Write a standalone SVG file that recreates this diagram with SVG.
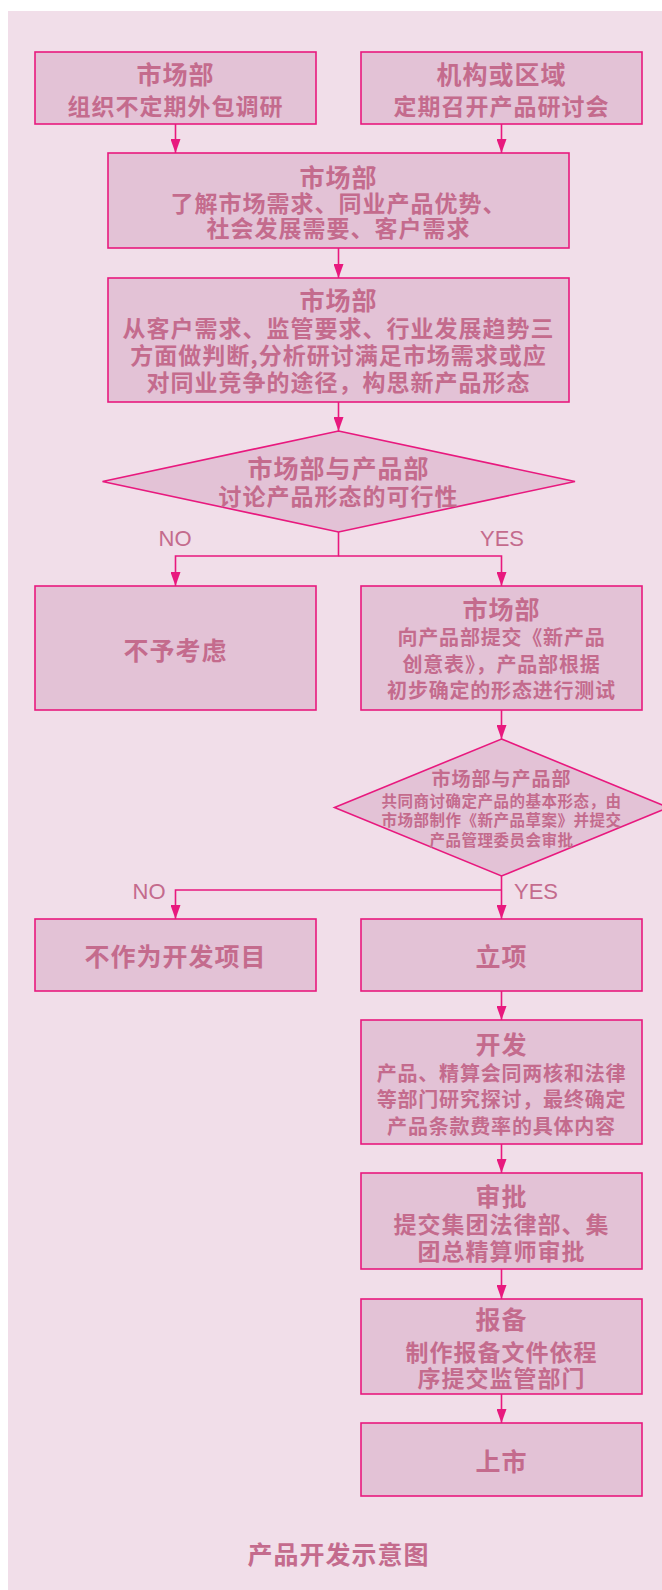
<svg xmlns="http://www.w3.org/2000/svg" width="662" height="1590" viewBox="0 0 662 1590">
<defs>
<style>
.bg{fill:#f1dee9}
.box{fill:#e3c2d6;stroke:#e8197e;stroke-width:1.6}
.ln{fill:none;stroke:#e8197e;stroke-width:1.6}
.t{font-family:"Noto Sans CJK SC","Noto Sans",sans-serif;font-weight:700;fill:#c46b8d;text-anchor:middle;dominant-baseline:central}
.h{font-size:25px;letter-spacing:1px}
.b{font-size:23px;letter-spacing:1px}
.s{font-size:20px;letter-spacing:0.8px}
.d2h{font-size:19px;letter-spacing:1px}
.d2b{font-size:15.5px;letter-spacing:0.5px}
.yn{font-family:"Liberation Sans",Arial,sans-serif;font-size:22px;fill:#c46b8d;text-anchor:middle}
</style>
<marker id="arr" markerUnits="userSpaceOnUse" markerWidth="14" markerHeight="10" refX="14" refY="5" orient="auto">
<path d="M0,0 L14,5 L0,10 Z" fill="#e8197e"/>
</marker>
</defs>
<rect class="bg" x="8" y="11" width="654" height="1579"/>

<g id="connectors">
<line class="ln" x1="175.5" y1="124" x2="175.5" y2="153" marker-end="url(#arr)"/>
<line class="ln" x1="501.5" y1="124" x2="501.5" y2="153" marker-end="url(#arr)"/>
<line class="ln" x1="338.5" y1="248" x2="338.5" y2="278" marker-end="url(#arr)"/>
<line class="ln" x1="338.5" y1="402" x2="338.5" y2="431" marker-end="url(#arr)"/>
<path class="ln" d="M338.5,532 V556 H175.5 V586" marker-end="url(#arr)"/>
<path class="ln" d="M338.5,556 H501.5 V586" marker-end="url(#arr)"/>
<line class="ln" x1="501.5" y1="710" x2="501.5" y2="739" marker-end="url(#arr)"/>
<line class="ln" x1="501.5" y1="876" x2="501.5" y2="919" marker-end="url(#arr)"/>
<path class="ln" d="M501.5,890 H175.5 V919" marker-end="url(#arr)"/>
<line class="ln" x1="501.5" y1="991" x2="501.5" y2="1020" marker-end="url(#arr)"/>
<line class="ln" x1="501.5" y1="1144" x2="501.5" y2="1173" marker-end="url(#arr)"/>
<line class="ln" x1="501.5" y1="1269" x2="501.5" y2="1299" marker-end="url(#arr)"/>
<line class="ln" x1="501.5" y1="1394" x2="501.5" y2="1423" marker-end="url(#arr)"/>
<text class="yn" x="175" y="546">NO</text>
<text class="yn" x="502" y="546">YES</text>
<text class="yn" x="149" y="899">NO</text>
<text class="yn" x="536" y="899">YES</text>
</g>

<g id="nodeA">
<rect class="box" x="35" y="52" width="281" height="72"/>
<text class="t h" x="175.5" y="73">市场部</text>
<text class="t b" x="175.5" y="105">组织不定期外包调研</text>
</g>
<g id="nodeB">
<rect class="box" x="361" y="52" width="281" height="72"/>
<text class="t h" x="501.5" y="73">机构或区域</text>
<text class="t b" x="501.5" y="105">定期召开产品研讨会</text>
</g>
<g id="nodeC">
<rect class="box" x="108" y="153" width="461" height="95"/>
<text class="t h" x="338.5" y="176">市场部</text>
<text class="t b" x="338.5" y="202">了解市场需求、同业产品优势、</text>
<text class="t b" x="338.5" y="227">社会发展需要、客户需求</text>
</g>
<g id="nodeD">
<rect class="box" x="108" y="278" width="461" height="124"/>
<text class="t h" x="338.5" y="299">市场部</text>
<text class="t b" x="338.5" y="327">从客户需求、监管要求、行业发展趋势三</text>
<text class="t b" x="338.5" y="354">方面做判断,分析研讨满足市场需求或应</text>
<text class="t b" x="338.5" y="381">对同业竞争的途径，构思新产品形态</text>
</g>
<g id="decision1">
<polygon class="box" points="338.5,431 575,481.5 338.5,532 102.5,481.5"/>
<text class="t h" x="338.5" y="467">市场部与产品部</text>
<text class="t b" x="338.5" y="495">讨论产品形态的可行性</text>
</g>
<g id="nodeE">
<rect class="box" x="35" y="586" width="281" height="124"/>
<text class="t h" x="175.5" y="649">不予考虑</text>
</g>
<g id="nodeF">
<rect class="box" x="361" y="586" width="281" height="124"/>
<text class="t h" x="501.5" y="608">市场部</text>
<text class="t s" x="501.5" y="636">向产品部提交《新产品</text>
<text class="t s" x="501.5" y="663">创意表》，产品部根据</text>
<text class="t s" x="501.5" y="689">初步确定的形态进行测试</text>
</g>
<g id="decision2">
<polygon class="box" points="501.5,739 668.5,807.5 501.5,876 334.5,807.5"/>
<text class="t d2h" x="501.5" y="777">市场部与产品部</text>
<text class="t d2b" x="501.5" y="800">共同商讨确定产品的基本形态，由</text>
<text class="t d2b" x="501.5" y="819">市场部制作《新产品草案》并提交</text>
<text class="t d2b" x="501.5" y="839">产品管理委员会审批</text>
</g>
<g id="nodeG">
<rect class="box" x="35" y="919" width="281" height="72"/>
<text class="t h" x="175.5" y="955">不作为开发项目</text>
</g>
<g id="nodeH">
<rect class="box" x="361" y="919" width="281" height="72"/>
<text class="t h" x="501.5" y="955">立项</text>
</g>
<g id="nodeI">
<rect class="box" x="361" y="1020" width="281" height="124"/>
<text class="t h" x="501.5" y="1043">开发</text>
<text class="t s" x="501.5" y="1072">产品、精算会同两核和法律</text>
<text class="t s" x="501.5" y="1098">等部门研究探讨，最终确定</text>
<text class="t s" x="501.5" y="1125">产品条款费率的具体内容</text>
</g>
<g id="nodeJ">
<rect class="box" x="361" y="1173" width="281" height="96"/>
<text class="t h" x="501.5" y="1195">审批</text>
<text class="t b" x="501.5" y="1223">提交集团法律部、集</text>
<text class="t b" x="501.5" y="1250">团总精算师审批</text>
</g>
<g id="nodeK">
<rect class="box" x="361" y="1299" width="281" height="95"/>
<text class="t h" x="501.5" y="1318">报备</text>
<text class="t b" x="501.5" y="1351">制作报备文件依程</text>
<text class="t b" x="501.5" y="1377">序提交监管部门</text>
</g>
<g id="nodeL">
<rect class="box" x="361" y="1423" width="281" height="73"/>
<text class="t h" x="501.5" y="1460">上市</text>
</g>
<g id="caption">
<text class="t h" x="338.5" y="1553">产品开发示意图</text>
</g>
</svg>
